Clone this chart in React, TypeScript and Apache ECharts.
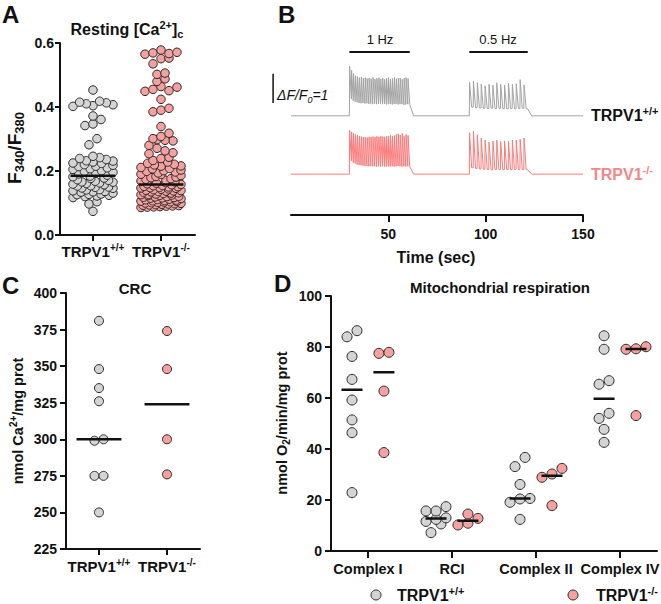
import { useEffect, useRef } from 'react';
import * as echarts from 'echarts';

const FONT = '"Liberation Sans", Arial, Helvetica, sans-serif';
const INK = '#111111';
const DOT_EDGE = '#2a2a2a';
const WT_FILL = '#d4d4d4';
const KO_FILL = '#f5a19f';
const WT_TRACE = '#a3a3a3';
const KO_TRACE = '#f77d7d';
const KO_TEXT = '#f48787';

const GENE = 'TRPV1';
const WT_SUP = '+/+';
const KO_SUP = '-/-';

// ---- Panel A: resting cytosolic Ca2+ (F340/F380), one value per cell
const RESTING_WT = [
  0.453, 0.418, 0.415, 0.413, 0.41, 0.407, 0.404, 0.402, 0.372, 0.361, 0.347, 0.342, 0.301, 0.282,
  0.246, 0.242, 0.239, 0.236, 0.232, 0.231, 0.228, 0.225, 0.224, 0.22, 0.218, 0.215, 0.214, 0.21,
  0.207, 0.205, 0.201, 0.199, 0.196, 0.193, 0.191, 0.187,
  0.184, 0.182, 0.178, 0.177, 0.173, 0.171, 0.168, 0.166, 0.165, 0.161, 0.159, 0.157, 0.154, 0.153,
  0.149, 0.147, 0.146, 0.142, 0.141, 0.138, 0.135, 0.134, 0.131, 0.128, 0.127, 0.124, 0.122, 0.12,
  0.117, 0.163, 0.15, 0.136, 0.126,
  0.104, 0.097, 0.074,
];
const RESTING_KO = [
  0.578, 0.571, 0.569, 0.567, 0.565, 0.553, 0.551, 0.535, 0.506, 0.502, 0.488, 0.48, 0.464, 0.462,
  0.455, 0.451, 0.449, 0.424, 0.396, 0.39, 0.385, 0.339,
  0.318, 0.308, 0.301, 0.298, 0.296, 0.294, 0.28, 0.271, 0.263, 0.257, 0.254, 0.243, 0.239, 0.233,
  0.228, 0.224, 0.221,
  0.219, 0.216, 0.215, 0.211, 0.208, 0.207, 0.203, 0.201, 0.199, 0.197, 0.194, 0.19, 0.189, 0.186,
  0.183, 0.181, 0.179, 0.176, 0.174, 0.171, 0.169, 0.166, 0.164, 0.162, 0.16,
  0.158, 0.157, 0.155, 0.154, 0.152, 0.151, 0.15, 0.149, 0.147, 0.146, 0.144, 0.143, 0.142, 0.14,
  0.139, 0.137, 0.136, 0.135, 0.134, 0.132, 0.131, 0.13, 0.128, 0.127, 0.126, 0.124, 0.123, 0.121,
  0.12, 0.119, 0.118, 0.116, 0.115, 0.114, 0.112, 0.111, 0.11, 0.109, 0.108, 0.106, 0.105, 0.104,
  0.103, 0.101, 0.1, 0.099, 0.098, 0.097, 0.096, 0.095, 0.094, 0.093, 0.092, 0.091, 0.09, 0.089,
  0.088, 0.087, 0.086, 0.148, 0.138, 0.125, 0.117, 0.107, 0.102,
];

// ---- Panel B: Ca2+ transients (ΔF/F0) during field stimulation
const STIM_1HZ_START = 30; // s
const STIM_1HZ_PERIOD = 1;
const STIM_1HZ_DECAY = 1; // s from stimulus to trough
const STIM_05HZ_START = 91.6; // s
const STIM_05HZ_PERIOD = 2;
const STIM_05HZ_DECAY = 1.2;
const TRACE_END = 150;
const TIME_TICKS = [50, 100, 150];

const WT_1HZ_PEAKS = [1.7, 1.56, 1.45, 1.38, 1.35, 1.31, 1.33, 1.29, 1.31, 1.28, 1.3, 1.27, 1.32, 1.26, 1.29, 1.31, 1.27, 1.3, 1.25, 1.29, 1.31, 1.26, 1.28, 1.32, 1.27, 1.29, 1.3, 1.25, 1.29, 1.31, 1.28];
const WT_1HZ_TROUGHS = [0.58, 0.52, 0.48, 0.46, 0.44, 0.43, 0.44, 0.42, 0.43, 0.41, 0.42, 0.4, 0.42, 0.4, 0.41, 0.42, 0.4, 0.41, 0.39, 0.4, 0.41, 0.39, 0.4, 0.41, 0.39, 0.4, 0.4, 0.38, 0.39, 0.4, 0.39];
const WT_05HZ_PEAKS = [1.15, 1.19, 1.14, 1.08, 1.03, 1.08, 1.05, 1.13, 1.08, 1.05, 1.12, 1.08, 1.1, 1.24, 1.06];
const WT_05HZ_TROUGHS = [0.3, 0.28, 0.27, 0.26, 0.25, 0.26, 0.25, 0.26, 0.25, 0.24, 0.25, 0.24, 0.25, 0.26, 0.24];
const KO_1HZ_PEAKS = [1.5, 1.45, 1.4, 1.36, 1.33, 1.31, 1.29, 1.27, 1.27, 1.26, 1.28, 1.27, 1.29, 1.27, 1.3, 1.28, 1.3, 1.29, 1.28, 1.3, 1.31, 1.33, 1.3, 1.32, 1.36, 1.38, 1.34, 1.4, 1.3, 1.36, 1.33];
const KO_1HZ_TROUGHS = [0.45, 0.4, 0.36, 0.33, 0.31, 0.3, 0.29, 0.28, 0.28, 0.27, 0.28, 0.27, 0.27, 0.26, 0.27, 0.26, 0.27, 0.26, 0.26, 0.27, 0.26, 0.27, 0.26, 0.27, 0.28, 0.27, 0.26, 0.27, 0.26, 0.27, 0.26];
const KO_05HZ_PEAKS = [1.42, 1.47, 1.35, 1.24, 1.17, 1.1, 1.14, 1.17, 1.12, 1.14, 1.12, 1.17, 1.17, 1.2, 1.24];
const KO_05HZ_TROUGHS = [0.22, 0.2, 0.18, 0.17, 0.16, 0.15, 0.16, 0.16, 0.15, 0.16, 0.15, 0.16, 0.16, 0.16, 0.15];

const WT_TRACE_OFFSET = 2; // traces are stacked 2 ΔF/F0 apart
const SCALE_BAR = 1; // ΔF/F0
const SCALE_BAR_TIME = -9.2; // s, left of the recording
const SCALE_BAR_BASE = WT_TRACE_OFFSET + 0.44;
const STIM_BAR_LEVEL = 4.19;

// ---- Panel C: Ca2+ retention capacity (nmol Ca2+/mg prot)
const CRC_WT = [381, 348, 335, 326, 299, 300, 275, 275, 250];
const CRC_KO = [374, 348, 300, 276];

// ---- Panel D: mitochondrial respiration (nmol O2/min/mg prot)
const RESP_CATEGORIES = ['Complex I', 'RCI', 'Complex II', 'Complex IV'];
const RESP_WT = [
  [84.0, 86.4, 76.3, 67.3, 59.2, 51.4, 46.4, 22.9],
  [17.4, 15.7, 15.7, 13.0, 12.4, 11.6, 10.6, 7.2],
  [33.1, 36.7, 26.1, 19.1, 20.4, 20.6, 12.4],
  [84.4, 79.1, 65.4, 66.8, 52.0, 54.0, 47.7, 42.6],
];
const RESP_KO = [
  [77.5, 77.9, 62.7, 38.6],
  [14.5, 12.8, 10.2, 10.9],
  [28.9, 32.4, 30.2, 17.8],
  [79.1, 80.1, 79.3, 53.1],
];

// ---- layout
const GRID_A = { left: 60, top: 43, width: 135, height: 192 };
const GRID_B = { left: 291, top: 40, width: 292, height: 175 };
const GRID_C = { left: 66, top: 293, width: 134, height: 256 };
const GRID_D = { left: 331, top: 296, width: 326, height: 255 };
const A_X = [-0.485, 1.5];
const A_Y = [0, 0.6];
const B_Y = [-1.4, 4.6];
const C_X = [-0.485, 1.485];
const C_Y = [225, 400];
const D_X = [-0.44, 3.44];
const D_Y = [0, 100];

const median = (vals: number[]) => {
  const s = [...vals].sort((a, b) => a - b);
  const m = Math.floor(s.length / 2);
  return s.length % 2 ? s[m] : (s[m - 1] + s[m]) / 2;
};

const gcd = (a: number, b: number): number => (b === 0 ? a : gcd(b, a % b));
const strideFor = (n: number) => {
  if (n <= 3) return 1;
  for (const s of [3, 5, 7, 2]) if (gcd(s, n) === 1) return s;
  return 1;
};

// Column-scatter layout: values closer than a dot are put in one row and spread sideways.
function swarm(
  values: number[], centre: number, grid: { width: number; height: number },
  xr: number[], yr: number[], dot: number, maxCols: number, rowFactor: number,
) {
  const pxPerValue = grid.height / (yr[1] - yr[0]);
  const pxPerX = grid.width / (xr[1] - xr[0]);
  const sorted = [...values].sort((a, b) => a - b);
  const rows: number[][] = [];
  let row: number[] = [];
  for (const v of sorted) {
    if (row.length && (v - row[0]) * pxPerValue >= dot * rowFactor) {
      rows.push(row);
      row = [];
    }
    row.push(v);
  }
  if (row.length) rows.push(row);
  const out: number[][] = [];
  for (const r of rows) {
    const n = r.length;
    const step = n <= maxCols ? dot : ((maxCols - 1) * dot) / (n - 1);
    const stride = strideFor(n);
    r.forEach((v, i) => {
      const slot = (i * stride) % n;
      out.push([centre + ((slot - (n - 1) / 2) * step) / pxPerX, v]);
    });
  }
  return out;
}

function buildTrace(offset: number, p1: number[], t1: number[], p05: number[], t05: number[]) {
  const pts: number[][] = [[0, offset]];
  const train = (start: number, period: number, decay: number, peaks: number[], troughs: number[]) => {
    let level = 0;
    peaks.forEach((pk, i) => {
      const t = start + i * period;
      pts.push([t, offset + level]);
      pts.push([t + 0.12, offset + pk]);
      level = troughs[i];
      if (decay < period) pts.push([t + decay, offset + level]);
    });
    const tEnd = start + peaks.length * period;
    pts.push([tEnd, offset + level]);
    pts.push([tEnd + 2, offset]);
  };
  train(STIM_1HZ_START, STIM_1HZ_PERIOD, STIM_1HZ_DECAY, p1, t1);
  train(STIM_05HZ_START, STIM_05HZ_PERIOD, STIM_05HZ_DECAY, p05, t05);
  pts.push([TRACE_END, offset]);
  return pts;
}

const richSet = (size: number, color: string, weight = 'bold', style = 'normal') => {
  const small = Math.round(size * 0.66);
  const base = { fontFamily: FONT, fontWeight: weight, fontStyle: style, fill: color, color };
  return {
    m: { ...base, fontSize: size, lineHeight: size + 4 },
    sup: { ...base, fontSize: small, lineHeight: small, height: small, verticalAlign: 'top' },
    sub: { ...base, fontSize: small, lineHeight: small, height: small, verticalAlign: 'bottom' },
  };
};

const text = (x: number, y: number, str: string, size: number, opts: any = {}) => {
  const color = opts.color || INK;
  const weight = opts.weight || 'bold';
  const fstyle = opts.italic ? 'italic' : 'normal';
  const align = opts.align || 'center';
  return {
    type: 'text',
    x,
    y,
    rotation: opts.rotation || 0,
    silent: true,
    style: {
      text: str,
      fontFamily: FONT,
      fontSize: size,
      fontWeight: weight,
      fontStyle: fstyle,
      fill: color,
      align,
      textAlign: align,
      verticalAlign: 'middle',
      textVerticalAlign: 'middle',
      rich: richSet(size, color, weight, fstyle),
    },
  };
};

const axisLineStyle = { show: true, onZero: false, lineStyle: { color: INK, width: 2 } };
const tickStyle = (len: number, custom?: number[]) => ({
  show: true, length: len, inside: false, lineStyle: { color: INK, width: 2 },
  ...(custom ? { customValues: custom } : {}),
});
const tickLabel = { fontFamily: FONT, fontSize: 14, fontWeight: 'bold', color: INK };
const genoLabel = (sup: string) => `{m|${GENE}}{sup|${sup}}`;

const medianLine = (xi: number, centre: number, half: number, value: number, width = 2.5) => ({
  type: 'line',
  xAxisIndex: xi,
  yAxisIndex: xi,
  data: [[centre - half, value], [centre + half, value]],
  symbol: 'none',
  silent: true,
  z: 5,
  lineStyle: { color: INK, width },
});

const dots = (xi: number, data: number[][], fill: string, size: number) => ({
  type: 'scatter',
  xAxisIndex: xi,
  yAxisIndex: xi,
  data,
  symbol: 'circle',
  symbolSize: size,
  silent: true,
  z: 3,
  itemStyle: { color: fill, borderColor: DOT_EDGE, borderWidth: 1, opacity: 1 },
});

function buildGraphic(): any[] {
  return [
    text(2, 14, 'A', 24, { align: 'left' }),
    text(278, 14, 'B', 24, { align: 'left' }),
    text(2, 285, 'C', 24, { align: 'left' }),
    text(274, 283, 'D', 24, { align: 'left' }),
    text(127, 29, '{m|Resting [Ca}{sup|2+}{m|]}{sub|c}', 16),
    text(14, 148, '{m|F}{sub|340}{m|/F}{sub|380}', 19, { rotation: Math.PI / 2 }),
    text(380, 39, '1 Hz', 13, { weight: 'normal' }),
    text(498, 39, '0.5 Hz', 13, { weight: 'normal' }),
    text(277, 95, '{m|ΔF/F}{sub|0}{m|=1}', 14, { weight: 'normal', italic: true, align: 'left' }),
    text(436, 257, 'Time (sec)', 16),
    text(135, 288, 'CRC', 15),
    text(18, 421, '{m|nmol Ca}{sup|2+}{m|/mg prot}', 14.5, { rotation: Math.PI / 2 }),
    text(500, 287, 'Mitochondrial respiration', 15),
    text(282, 423, '{m|nmol O}{sub|2}{m|/min/mg prot}', 14.5, { rotation: Math.PI / 2 }),
    {
      type: 'circle', silent: true, shape: { cx: 376, cy: 595, r: 5 },
      style: { fill: WT_FILL, stroke: DOT_EDGE, lineWidth: 1 },
    },
    text(397, 595, genoLabel(WT_SUP), 16, { align: 'left' }),
    {
      type: 'circle', silent: true, shape: { cx: 573, cy: 595, r: 5 },
      style: { fill: KO_FILL, stroke: DOT_EDGE, lineWidth: 1 },
    },
    text(596, 595, genoLabel(KO_SUP), 16, { align: 'left' }),
  ];
}

function buildOption() {
  const grids = [GRID_A, GRID_B, GRID_C, GRID_D].map((g) => ({ ...g, outerBoundsMode: 'none', containLabel: false }));

  const xAxis: any[] = [
    {
      gridIndex: 0, type: 'value', min: A_X[0], max: A_X[1],
      axisLine: axisLineStyle, axisTick: tickStyle(6, [0, 1]), splitLine: { show: false },
      axisLabel: { customValues: [0, 1], margin: 7, formatter: (v: number) => genoLabel(v < 0.5 ? WT_SUP : KO_SUP), rich: richSet(15, INK) },
    },
    {
      gridIndex: 1, type: 'value', min: 0, max: TRACE_END,
      axisLine: axisLineStyle, axisTick: tickStyle(7, TIME_TICKS), splitLine: { show: false },
      axisLabel: { ...tickLabel, customValues: TIME_TICKS, margin: 12 },
    },
    {
      gridIndex: 2, type: 'value', min: C_X[0], max: C_X[1],
      axisLine: axisLineStyle, axisTick: tickStyle(6, [0, 1]), splitLine: { show: false },
      axisLabel: { customValues: [0, 1], margin: 8, formatter: (v: number) => genoLabel(v < 0.5 ? WT_SUP : KO_SUP), rich: richSet(15, INK) },
    },
    {
      gridIndex: 3, type: 'value', min: D_X[0], max: D_X[1],
      axisLine: axisLineStyle, axisTick: tickStyle(7, [0, 1, 2, 3]), splitLine: { show: false },
      axisLabel: { ...tickLabel, fontSize: 14.5, customValues: [0, 1, 2, 3], margin: 10, formatter: (v: number) => RESP_CATEGORIES[Math.round(v)] },
    },
  ];

  const yAxis: any[] = [
    {
      gridIndex: 0, type: 'value', min: A_Y[0], max: A_Y[1], interval: 0.2,
      axisLine: axisLineStyle, axisTick: tickStyle(5), splitLine: { show: false },
      axisLabel: { ...tickLabel, margin: 6, formatter: (v: number) => v.toFixed(1) },
    },
    { gridIndex: 1, type: 'value', min: B_Y[0], max: B_Y[1], show: false, splitLine: { show: false } },
    {
      gridIndex: 2, type: 'value', min: C_Y[0], max: C_Y[1], interval: 25,
      axisLine: axisLineStyle, axisTick: tickStyle(6), splitLine: { show: false },
      axisLabel: { ...tickLabel, margin: 9 },
    },
    {
      gridIndex: 3, type: 'value', min: D_Y[0], max: D_Y[1], interval: 20,
      axisLine: axisLineStyle, axisTick: tickStyle(6), splitLine: { show: false },
      axisLabel: { ...tickLabel, margin: 9 },
    },
  ];

  const series: any[] = [];

  // Panel A
  series.push(dots(0, swarm(RESTING_WT, 0, GRID_A, A_X, A_Y, 8, 6, 0.8), WT_FILL, 8.5));
  series.push(dots(0, swarm(RESTING_KO, 1, GRID_A, A_X, A_Y, 8, 6, 0.8), KO_FILL, 8.5));
  series.push(medianLine(0, 0, 0.33, median(RESTING_WT)));
  series.push(medianLine(0, 1, 0.33, median(RESTING_KO)));

  // Panel B
  const traceLabel = (sup: string, color: string) => ({
    show: true,
    distance: 8,
    formatter: () => genoLabel(sup),
    rich: richSet(16, color),
  });
  series.push({
    type: 'line', xAxisIndex: 1, yAxisIndex: 1, symbol: 'none', silent: true,
    data: buildTrace(WT_TRACE_OFFSET, WT_1HZ_PEAKS, WT_1HZ_TROUGHS, WT_05HZ_PEAKS, WT_05HZ_TROUGHS),
    lineStyle: { color: WT_TRACE, width: 1 }, itemStyle: { color: WT_TRACE },
    endLabel: traceLabel(WT_SUP, INK),
  });
  series.push({
    type: 'line', xAxisIndex: 1, yAxisIndex: 1, symbol: 'none', silent: true,
    data: buildTrace(0, KO_1HZ_PEAKS, KO_1HZ_TROUGHS, KO_05HZ_PEAKS, KO_05HZ_TROUGHS),
    lineStyle: { color: KO_TRACE, width: 1 }, itemStyle: { color: KO_TRACE },
    endLabel: traceLabel(KO_SUP, KO_TEXT),
  });
  const stimBar = (start: number, period: number, n: number) => ({
    type: 'line', xAxisIndex: 1, yAxisIndex: 1, symbol: 'none', silent: true,
    data: [[start, STIM_BAR_LEVEL], [start + period * n, STIM_BAR_LEVEL]],
    lineStyle: { color: INK, width: 2 },
  });
  series.push(stimBar(STIM_1HZ_START, STIM_1HZ_PERIOD, WT_1HZ_PEAKS.length));
  series.push(stimBar(STIM_05HZ_START, STIM_05HZ_PERIOD, WT_05HZ_PEAKS.length));

  // Panel C
  series.push(dots(2, swarm(CRC_WT, 0, GRID_C, C_X, C_Y, 9, 3, 1), WT_FILL, 9));
  series.push(dots(2, swarm(CRC_KO, 1, GRID_C, C_X, C_Y, 9, 3, 1), KO_FILL, 9));
  series.push(medianLine(2, 0, 0.33, median(CRC_WT)));
  series.push(medianLine(2, 1, 0.33, median(CRC_KO)));

  // Panel D
  const shift = 0.19;
  const wtPts: number[][] = [];
  const koPts: number[][] = [];
  RESP_CATEGORIES.forEach((_, c) => {
    wtPts.push(...swarm(RESP_WT[c], c - shift, GRID_D, D_X, D_Y, 10, 3, 1));
    koPts.push(...swarm(RESP_KO[c], c + shift, GRID_D, D_X, D_Y, 10, 3, 1));
    series.push(medianLine(3, c - shift, 0.125, median(RESP_WT[c])));
    series.push(medianLine(3, c + shift, 0.125, median(RESP_KO[c])));
  });
  series.push(dots(3, wtPts, WT_FILL, 10));
  series.push(dots(3, koPts, KO_FILL, 10));

  return {
    animation: false,
    backgroundColor: '#ffffff',
    textStyle: { fontFamily: FONT },
    grid: grids,
    xAxis,
    yAxis,
    series,
    graphic: buildGraphic(),
  };
}

export default function App() {
  const ref = useRef<HTMLDivElement>(null);
  useEffect(() => {
    if (!ref.current) return;
    const chart = echarts.init(ref.current, null, { renderer: 'svg' });
    chart.setOption(buildOption() as any);
    // ΔF/F0 scale bar sits left of the recording, so place it through the trace axes
    const p0 = chart.convertToPixel({ gridIndex: 1 }, [SCALE_BAR_TIME, SCALE_BAR_BASE]) as number[];
    const p1 = chart.convertToPixel({ gridIndex: 1 }, [SCALE_BAR_TIME, SCALE_BAR_BASE + SCALE_BAR]) as number[];
    chart.setOption({
      graphic: [
        ...buildGraphic(),
        {
          type: 'line', silent: true,
          shape: { x1: p0[0], y1: p0[1], x2: p1[0], y2: p1[1] },
          style: { stroke: INK, lineWidth: 1.5 },
        },
      ],
    } as any);
    return () => chart.dispose();
  }, []);
  return (
    <div
      ref={ref}
      style={{ position: 'fixed', left: 0, top: 0, width: 661, height: 604, background: '#fff' }}
    />
  );
}
